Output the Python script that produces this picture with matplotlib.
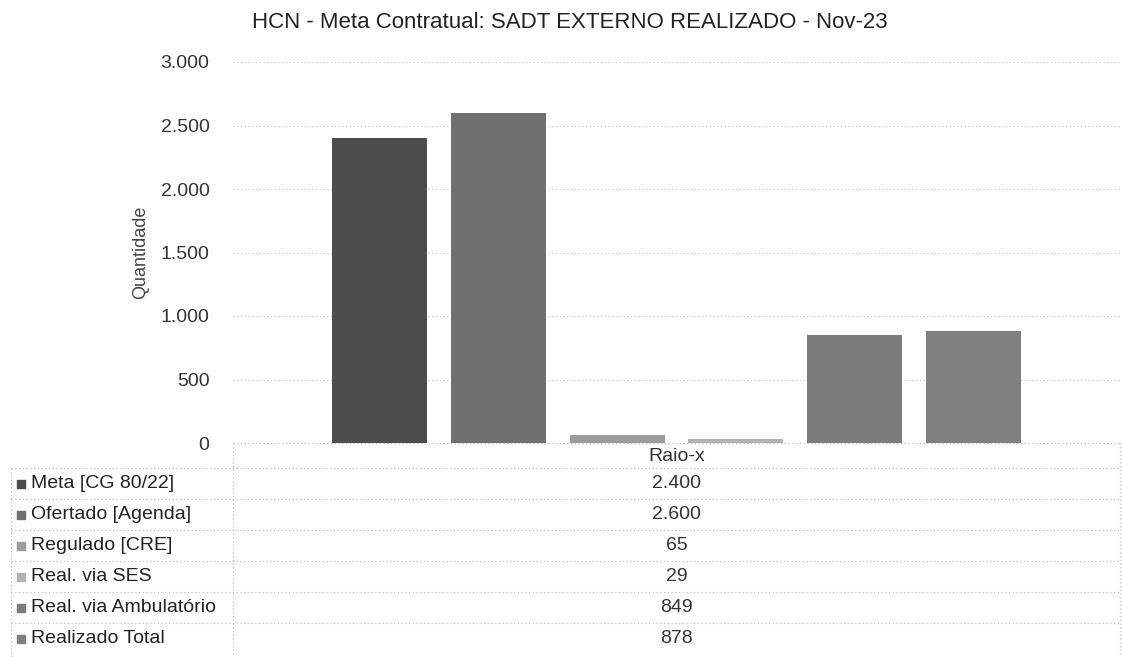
import matplotlib.pyplot as plt
import numpy as np

plt.rcParams['font.family'] = ['Liberation Sans', 'DejaVu Sans']

# data
category = 'Raio-x'
series = ['Meta [CG 80/22]', 'Ofertado [Agenda]', 'Regulado [CRE]',
          'Real. via SES', 'Real. via Ambulatório', 'Realizado Total']
values = [2400, 2600, 65, 29, 849, 878]
colors = ['#4d4d4d', '#707070', '#9c9c9c', '#b3b3b3', '#7c7c7c', '#7f7f7f']
yticks = [0, 500, 1000, 1500, 2000, 2500, 3000]


def fmt(v):
    return f'{v:,}'.replace(',', '.')


W, H = 1123, 657
fig = plt.figure(figsize=(W / 100, H / 100), dpi=100)

ax_l, ax_r, ax_t, ax_b = 233, 1120, 62, 443
ax = fig.add_axes([ax_l / W, 1 - ax_b / H, (ax_r - ax_l) / W, (ax_b - ax_t) / H])

n = len(values)
step = 118.8 / (ax_r - ax_l)
xs = [(i - (n - 1) / 2) * step for i in range(n)]
ax.bar(xs, values, width=step * 0.8, color=colors, zorder=3)
ax.set_xlim(-0.5, 0.5)
ax.set_ylim(0, 3000)
ax.set_yticks(yticks)
ax.set_yticklabels([fmt(v) for v in yticks], fontsize=14, color='#333333')
ax.set_xticks([])
ax.tick_params(axis='y', length=0, pad=17)
ax.grid(axis='y', color='#c8c8c8', linestyle=(0, (1, 2)), linewidth=0.9, zorder=0)
for s in ax.spines.values():
    s.set_visible(False)
ax.set_ylabel('Quantidade', fontsize=13, color='#444444', labelpad=8)
fig.text(570 / W, 1 - 22 / H, 'HCN - Meta Contratual: SADT EXTERNO REALIZADO - Nov-23',
         ha='center', va='center', fontsize=16, color='#222222')

# data table drawn beneath the axes
tab = fig.add_axes([0, 0, 1, 1], zorder=-1)
tab.set_xlim(0, W)
tab.set_ylim(H, 0)
tab.axis('off')
lc = '#bdbdbd'
ls = (0, (1, 2))
row_h = 31
top = ax_b
head_bot = 468
col_mid = (ax_l + ax_r) / 2
tab.plot([ax_l, ax_r], [top, top], color=lc, ls=ls, lw=0.9)
tab.plot([ax_l, ax_l], [top, H], color=lc, ls=ls, lw=0.9)
tab.plot([ax_r, ax_r], [top, H], color=lc, ls=ls, lw=0.9)
tab.plot([11, 11], [head_bot, H], color=lc, ls=ls, lw=0.9)
tab.text(col_mid, (top + head_bot) / 2 + 1, category, ha='center', va='center',
         fontsize=14, color='#333333')
for i, (name, v, c) in enumerate(zip(series, values, colors)):
    y0 = head_bot + i * row_h
    tab.plot([11, ax_r], [y0, y0], color=lc, ls=ls, lw=0.9)
    yc = y0 + row_h / 2
    tab.scatter([21], [yc], marker='s', s=40, color=c)
    tab.text(31, yc, name, ha='left', va='center', fontsize=14, color='#222222')
    tab.text(col_mid, yc, fmt(v), ha='center', va='center', fontsize=14, color='#333333')

fig.savefig('out.png', dpi=100, facecolor='white')
